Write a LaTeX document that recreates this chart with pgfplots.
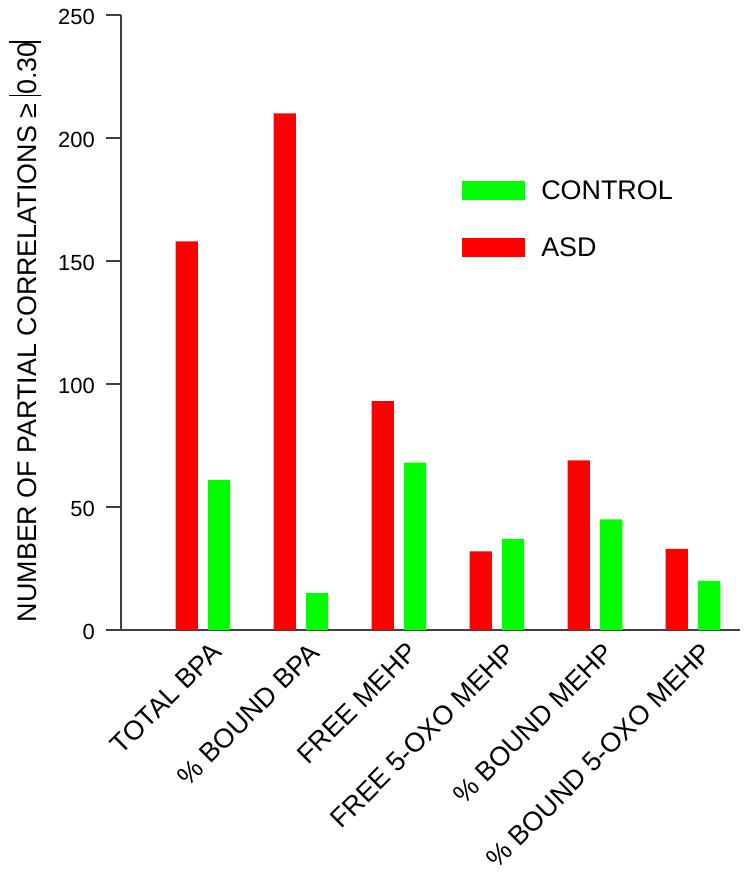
\documentclass[border=0pt]{standalone}
\usepackage{pgfplots}
\pgfplotsset{compat=1.18}
\usepackage{fontspec}
\setmainfont{Liberation Sans}
\definecolor{bred}{HTML}{FF0000}
\definecolor{bgreen}{HTML}{00FF00}
\newcommand{\tallbar}{\rule[-0.2em]{1.3bp}{1.22em}}
\begin{document}
\begin{tikzpicture}
\useasboundingbox (-121bp,-246bp) rectangle (630bp,630bp);
\begin{axis}[
  scale only axis,
  width=619bp, height=615bp,
  xmin=-0.835, xmax=5.48,
  ymin=0, ymax=250,
  axis x line*=bottom, axis y line*=left,
  axis line style={-, draw=black!75, line width=1.1bp},
  every outer x axis line/.append style={-},
  every outer y axis line/.append style={-},
  ytick={0,50,100,150,200,250},
  xtick={0,1,2,3,4,5},
  xticklabels={TOTAL BPA, \% BOUND BPA, FREE MEHP, FREE 5-OXO MEHP, \% BOUND MEHP, \% BOUND 5-OXO MEHP},
  x tick label style={rotate=45, anchor=north east, inner sep=2bp, xshift=10bp, yshift=0bp, font=\fontsize{27}{31}\selectfont},
  y tick label style={font=\fontsize{22}{26}\selectfont, inner sep=0pt, xshift=-11bp, yshift=-2bp},
  /pgf/number format/assume math mode=true,
  major x tick style={draw=none},
  major y tick style={draw=black!75, line width=1.1bp},
  tick align=outside, major tick length=15bp,
  ylabel={NUMBER OF PARTIAL CORRELATIONS ≥ \tallbar0.30\tallbar},
  ylabel style={font=\fontsize{27}{31}\selectfont, at={(axis description cs:-0.155,0.485)}, anchor=center},
  ybar, bar width=0.2276,
  legend style={at={(rel axis cs:0.551,0.731)}, anchor=north west, draw=none, fill=none,
    font=\fontsize{27}{31}\selectfont, row sep=36.5bp, inner sep=0pt,
    nodes={inner sep=0pt}},
  legend cell align=left,
  legend image code/.code={\fill[#1] (0bp,-9.5bp) rectangle (63bp,9.5bp); \path (79bp,0bp);},
]
\addplot[draw=none, fill=bgreen, bar shift=0.165] coordinates {(0,61) (1,15) (2,68) (3,37) (4,45) (5,20)};
\addlegendentry{CONTROL}
\addplot[draw=none, fill=bred, bar shift=-0.165] coordinates {(0,158) (1,210) (2,93) (3,32) (4,69) (5,33)};
\addlegendentry{ASD}
\end{axis}
\end{tikzpicture}
\end{document}
